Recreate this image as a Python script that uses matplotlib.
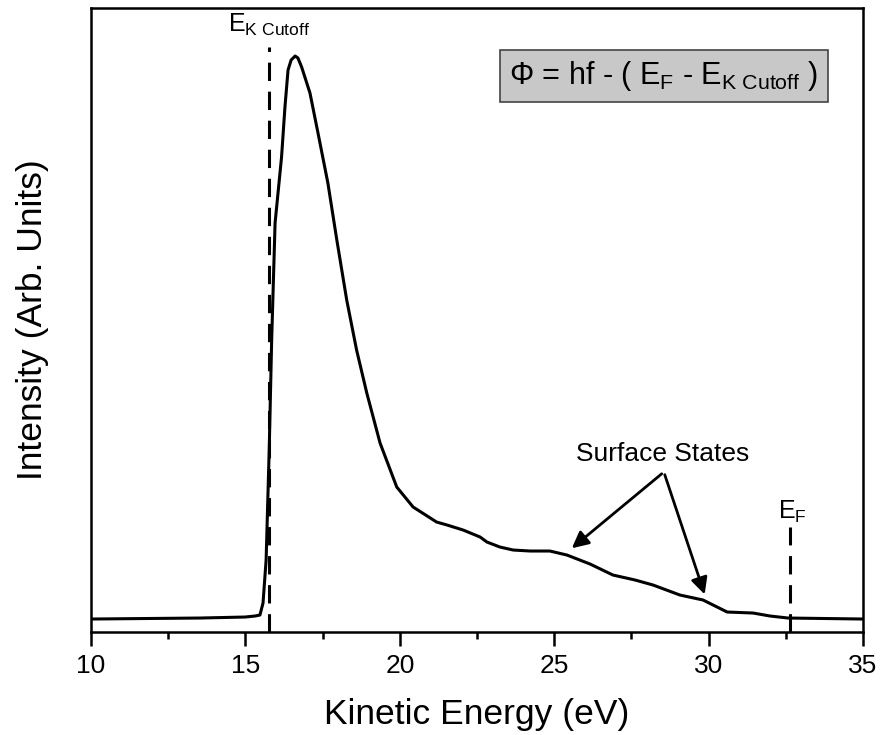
import numpy as np
import matplotlib
matplotlib.use('Agg')
import matplotlib.pyplot as plt

plt.rcParams['font.family'] = ['Liberation Sans', 'DejaVu Sans']
plt.rcParams['mathtext.fontset'] = 'custom'
plt.rcParams['mathtext.rm'] = 'Liberation Sans'
plt.rcParams['mathtext.it'] = 'Liberation Sans:italic'
plt.rcParams['mathtext.bf'] = 'Liberation Sans:bold'

# spectrum (intensity in arbitrary units)
energy = [10.0, 13.53, 14.99, 15.31, 15.47, 15.57, 15.67, 15.77, 15.85, 15.96,
          16.17, 16.28, 16.38, 16.48, 16.61, 16.70, 16.82, 17.09, 17.35, 17.67,
          17.96, 18.28, 18.60, 18.93, 19.36, 19.90, 20.43, 21.19, 21.53, 22.05,
          22.60, 22.82, 23.24, 23.67, 24.22, 24.86, 25.41, 26.16, 26.90, 27.62,
          28.20, 29.07, 29.82, 30.21, 30.60, 31.44, 31.99, 32.57, 35.0]
intensity = [13, 14, 15, 16, 17, 29, 72, 182, 292, 409,
             475, 525, 562, 572, 576, 574, 565, 539, 499, 449,
             392, 332, 282, 239, 189, 145, 125, 110, 107, 102,
             95, 90, 85, 82, 81, 81, 77, 68, 57, 52,
             47, 37, 32, 26, 20, 19, 16, 14, 13]

e_cutoff = 15.76
e_fermi = 32.64
cutoff_top = 585
fermi_top = 105

fig = plt.figure(figsize=(8.82, 7.35), dpi=100)
ax = fig.add_axes([0.1032, 0.1401, 0.8753, 0.849])

ax.plot(energy, intensity, color='black', lw=2.2, solid_joinstyle='round')
ax.plot([e_cutoff, e_cutoff], [0, cutoff_top], color='black', lw=2.2, ls=(0, (6, 3.5)))
ax.plot([e_fermi, e_fermi], [0, fermi_top], color='black', lw=2.2, ls=(0, (6, 3.5)))

ax.set_xlim(10, 35)
ax.set_ylim(0, 624)
ax.set_xticks([10, 15, 20, 25, 30, 35])
ax.set_xticks([12.5, 17.5, 22.5, 27.5, 32.5], minor=True)
ax.set_yticks([])
ax.tick_params(axis='x', which='major', direction='out', length=10, width=1.8, labelsize=19, pad=6)
ax.tick_params(axis='x', which='minor', direction='out', length=5, width=1.8)
for s in ax.spines.values():
    s.set_linewidth(1.8)

ax.set_xlabel('Kinetic Energy (eV)', fontsize=25.5, labelpad=14)
ax.set_ylabel('Intensity (Arb. Units)', fontsize=25.5, labelpad=30)

ax.text(14.42, 600, r'E$_\mathregular{K\ Cutoff}$', fontsize=18)
ax.text(32.25, 113, r'E$_\mathregular{F}$', fontsize=18)

ax.text(23.55, 556, r'$\Phi$ = hf - ( E$_\mathregular{F}$ - E$_\mathregular{K\ Cutoff}$ )',
        fontsize=22, va='center',
        bbox=dict(boxstyle='square,pad=0.3', fc='#c8c8c8', ec='#444444', lw=1.2))

ax.text(28.5, 178, 'Surface States', fontsize=19, ha='center', va='center')
ax.annotate('', xy=(25.5, 82), xytext=(28.55, 160),
            arrowprops=dict(arrowstyle='-|>', color='black', lw=2, mutation_scale=25))
ax.annotate('', xy=(29.9, 35), xytext=(28.55, 160),
            arrowprops=dict(arrowstyle='-|>', color='black', lw=2, mutation_scale=25))

fig.savefig('out.png', dpi=100)
